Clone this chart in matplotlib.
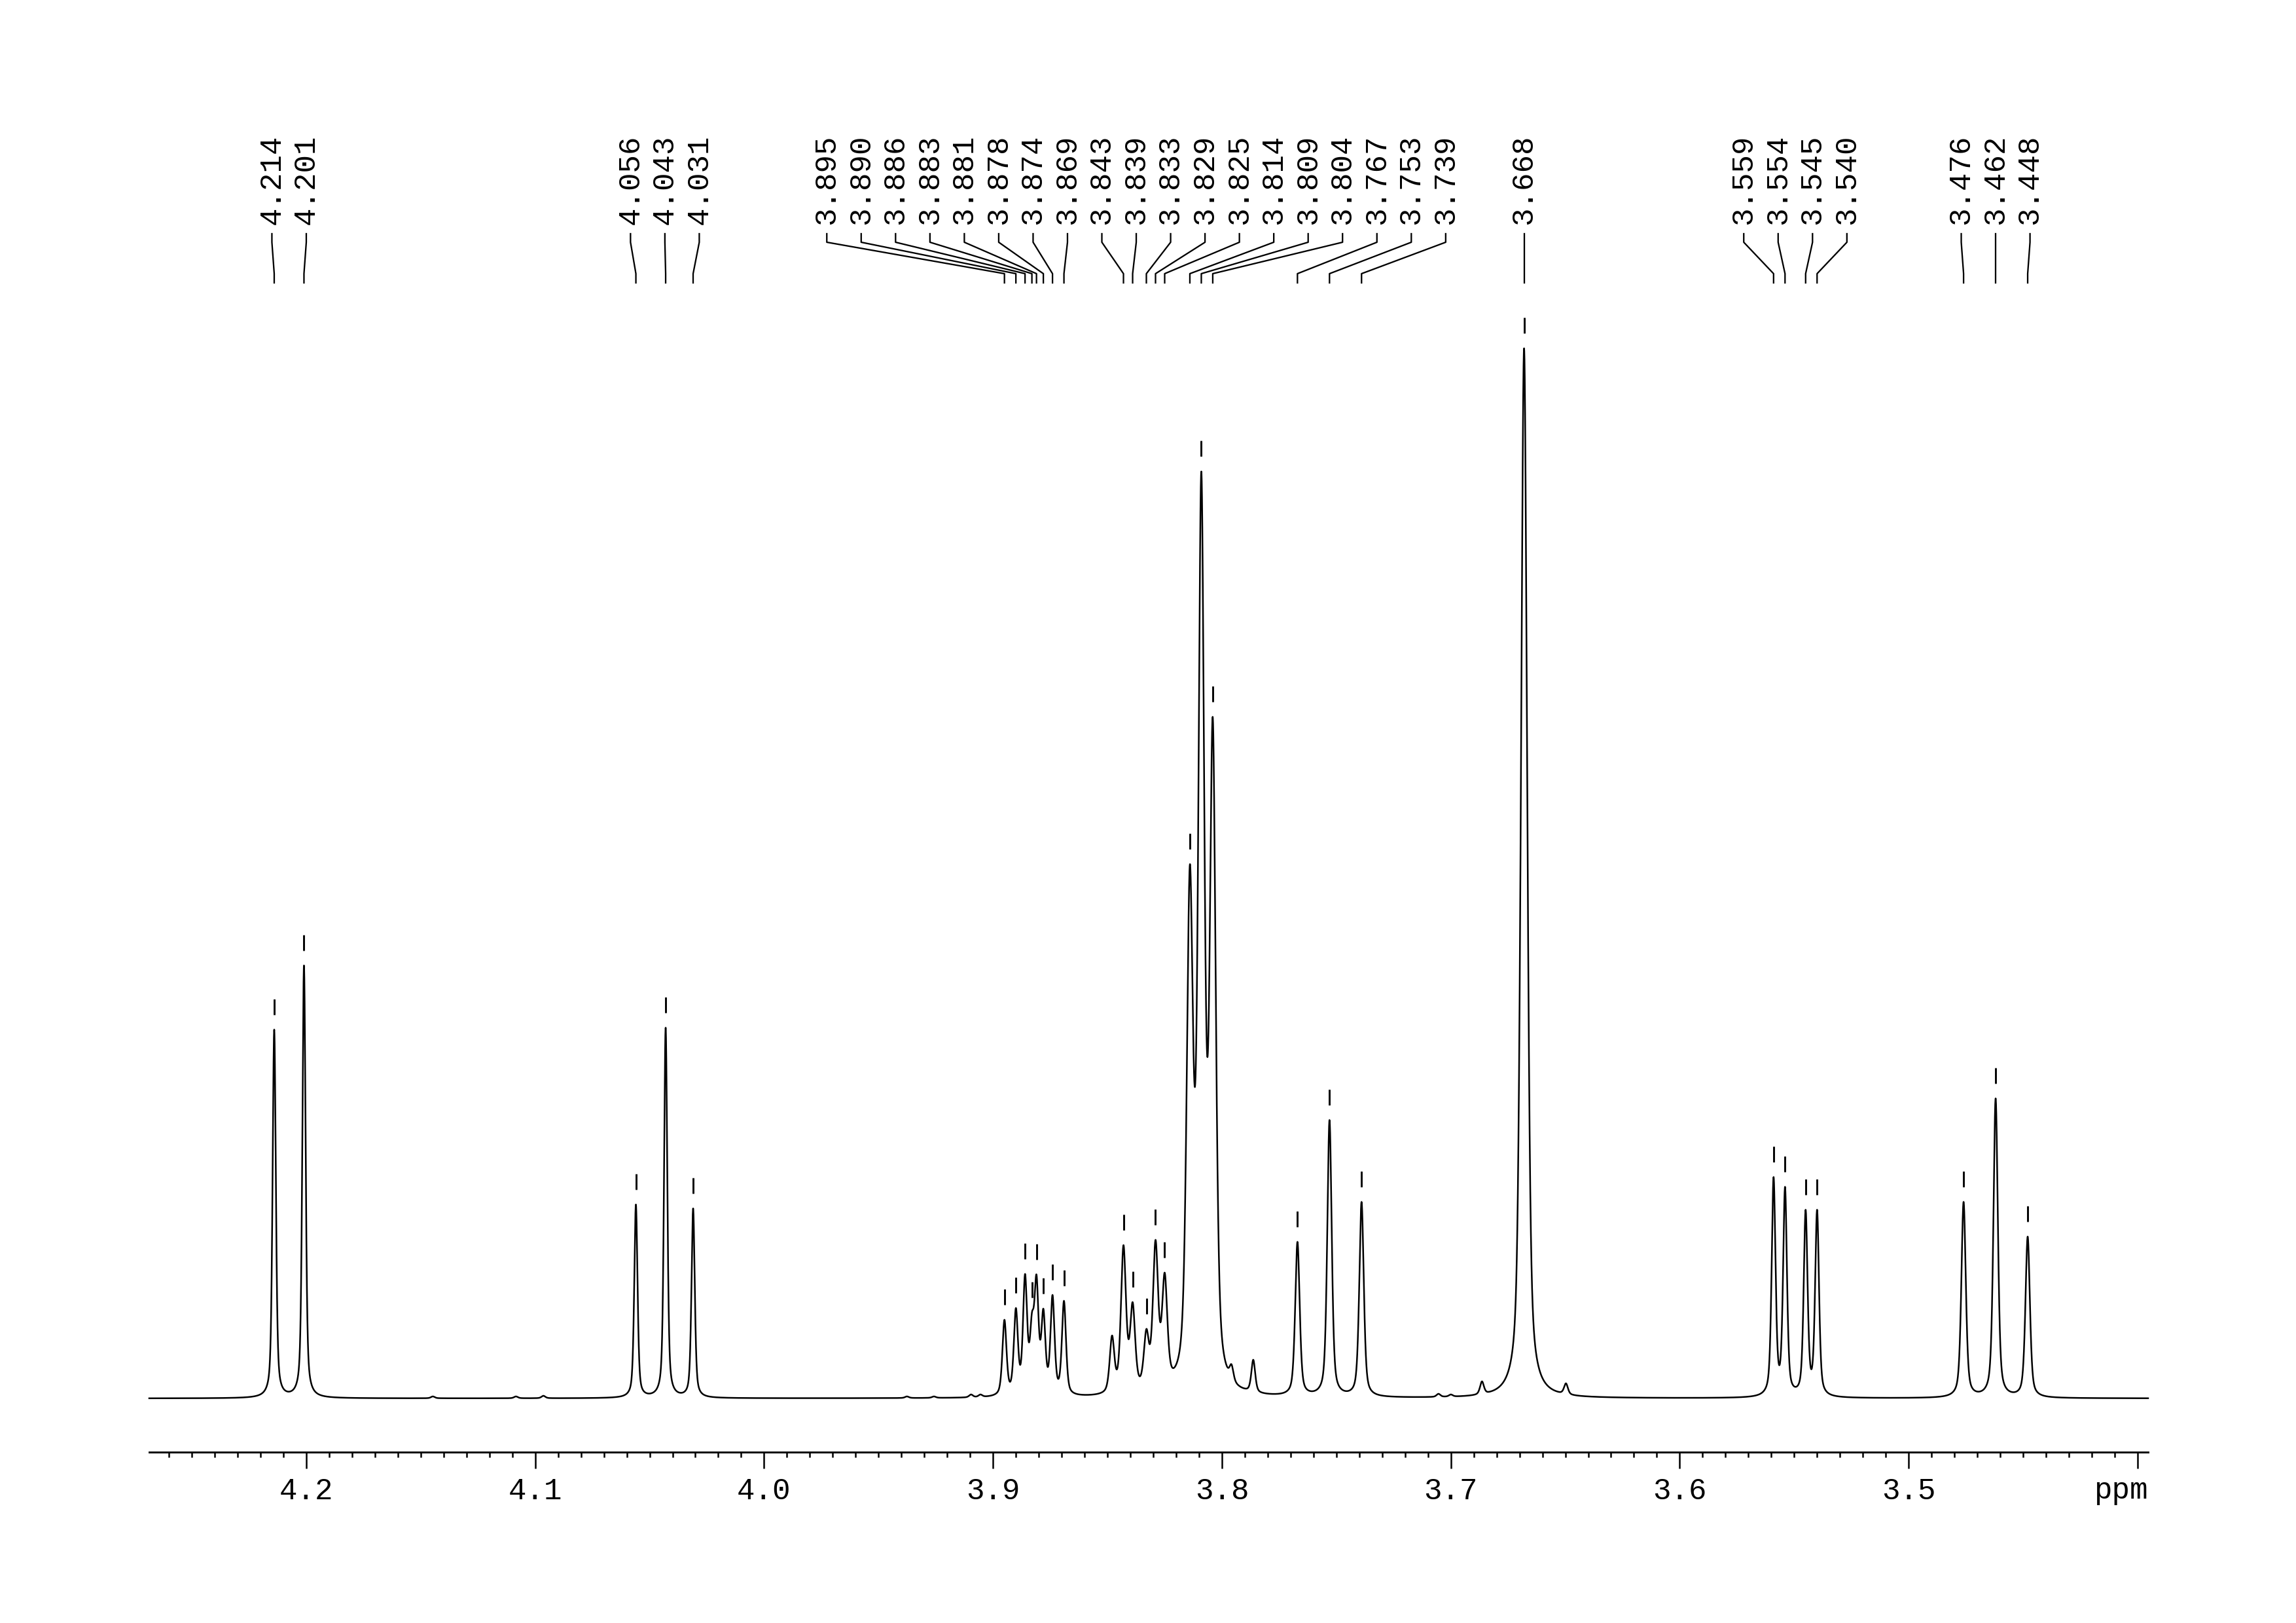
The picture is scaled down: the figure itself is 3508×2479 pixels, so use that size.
import numpy as np
import matplotlib
matplotlib.use("Agg")
import matplotlib.pyplot as plt
from matplotlib import transforms

# ---------------------------------------------------------------------------
# Spectrum data (1H NMR, ppm)
# ---------------------------------------------------------------------------

# picked / labelled peaks
label_ppm = [4.214, 4.201, 4.056, 4.043, 4.031,
             3.895, 3.890, 3.886, 3.883, 3.881, 3.878, 3.874, 3.869,
             3.843, 3.839, 3.833, 3.829, 3.825,
             3.814, 3.809, 3.804,
             3.767, 3.753, 3.739,
             3.668,
             3.559, 3.554, 3.545, 3.540,
             3.476, 3.462, 3.448]
# observed height of the trace at each peak (arbitrary intensity)
label_height = [563, 661, 296, 566, 290,
                120, 138, 190, 131, 189, 137, 158, 149,
                234, 147, 106, 242, 192,
                815, 1415, 1040,
                239, 425, 300,
                1603,
                338, 323, 288, 288,
                300, 458, 247]
# line width (FWHM, ppm)
label_width = [0.0017, 0.0017, 0.0017, 0.0017, 0.0017,
               0.0021, 0.0021, 0.0021, 0.0021, 0.0021, 0.0021, 0.0021, 0.0021,
               0.0026, 0.0026, 0.0026, 0.0027, 0.0027,
               0.0032, 0.0031, 0.0031,
               0.0023, 0.0023, 0.0023,
               0.0032,
               0.0020, 0.0020, 0.0020, 0.0020,
               0.0023, 0.0023, 0.0023]

# small unlabelled signals (shoulders, 13C satellites, impurities)
extra_ppm = [4.1447, 4.1084, 4.0964, 3.9376, 3.9258, 3.9096, 3.9055,
             3.848, 3.7958, 3.7863, 3.7054, 3.7000, 3.6864, 3.6497]
extra_height = [3, 3, 4, 3, 3, 6, 6,
                96, 52, 59, 7, 6, 26, 23]
extra_width = [0.0020, 0.0020, 0.0020, 0.0020, 0.0020, 0.0020, 0.0020,
               0.0024, 0.0020, 0.0020, 0.0020, 0.0020, 0.0020, 0.0020]

PPM_LEFT, PPM_RIGHT = 4.2686, 3.3954
ETA = 0.5                 # Lorentzian fraction of the pseudo-Voigt line shape
LABEL_SPACING = 0.01502   # ppm between neighbouring peak labels

FONT = ["Liberation Mono", "DejaVu Sans Mono"]
W_PX, H_PX = 3508, 2479


def pvoigt(x, x0, fwhm, eta=ETA):
    d = (np.asarray(x) - x0) / (fwhm / 2.0)
    return eta / (1.0 + d ** 2) + (1.0 - eta) * np.exp(-np.log(2) * d ** 2)


def build_spectrum(grid, ppm, height, width):
    """Solve for amplitudes so the summed trace hits the read heights."""
    ppm = np.asarray(ppm)
    width = np.asarray(width)
    m = np.array([[pvoigt(p, q, w) for q, w in zip(ppm, width)] for p in ppm])
    amps = np.linalg.solve(m, np.asarray(height, dtype=float))
    y = np.zeros_like(grid)
    for a, q, w in zip(amps, ppm, width):
        y += a * pvoigt(grid, q, w)
    return y


def label_positions(ppms, spacing):
    """Spread labels evenly around each crowded group, like TopSpin does."""
    clusters = [[p] for p in sorted(ppms, reverse=True)]
    merged = True
    while merged:
        merged = False
        for i in range(len(clusters) - 1):
            a, b = clusters[i], clusters[i + 1]
            a_last = np.mean(a) - (len(a) - 1) / 2 * spacing
            b_first = np.mean(b) + (len(b) - 1) / 2 * spacing
            if a_last - b_first < spacing:
                clusters[i] = a + b
                del clusters[i + 1]
                merged = True
                break
    pos = []
    for c in clusters:
        n = len(c)
        pos += [np.mean(c) + ((n - 1) / 2 - k) * spacing for k in range(n)]
    return pos


def fy(px):
    # figure fraction from a pixel row measured from the top
    return 1.0 - px / H_PX


# ---------------------------------------------------------------------------
# Figure
# ---------------------------------------------------------------------------

plt.rcParams["font.family"] = FONT

fig = plt.figure(figsize=(W_PX / 300, H_PX / 300), dpi=300)
ax = fig.add_axes([228 / W_PX, fy(2218), (3282 - 228) / W_PX, (2218 - 532) / H_PX])

grid = np.linspace(PPM_LEFT, PPM_RIGHT, 30000)
all_ppm = label_ppm + extra_ppm
all_height = label_height + extra_height
all_width = label_width + extra_width
spec = build_spectrum(grid, all_ppm, all_height, all_width)

ax.plot(grid, spec, color="black", lw=0.6, clip_on=False)
ax.set_xlim(PPM_LEFT, PPM_RIGHT)
ax.set_ylim(-82, 1603)

# peak-pick markers just above each labelled peak
ax.vlines(label_ppm, np.array(label_height) + 23, np.array(label_height) + 47,
          color="black", lw=0.7, clip_on=False)

# x axis in the Bruker style
for side in ("left", "right", "top"):
    ax.spines[side].set_visible(False)
ax.spines["bottom"].set_linewidth(0.7)
ax.set_yticks([])
major = [4.2, 4.1, 4.0, 3.9, 3.8, 3.7, 3.6, 3.5, 3.4]
ax.set_xticks(major)
ax.set_xticklabels([f"{t:.1f}" for t in major[:-1]] + [""])
ax.set_xticks(np.arange(3.40, 4.265, 0.01), minor=True)
ax.tick_params(axis="x", which="major", direction="out", length=6, width=0.6,
               pad=3, labelsize=11)
ax.tick_params(axis="x", which="minor", direction="out", length=2, width=0.6)
ax.text(1.0, -0.0219, "ppm", transform=ax.transAxes, ha="right", va="top",
        fontsize=11)

# peak labels with leader lines
trans = transforms.blended_transform_factory(ax.transData, fig.transFigure)
for p, lx in zip(sorted(label_ppm, reverse=True),
                 label_positions(label_ppm, LABEL_SPACING)):
    ax.text(lx, fy(343), f"{p:.3f}", rotation=90, ha="center", va="bottom",
            fontsize=11, transform=trans, clip_on=False)
    ax.plot([lx, lx, p, p], [fy(357), fy(370), fy(418), fy(432)],
            color="black", lw=0.55, transform=trans, clip_on=False)

fig.savefig("out.png", dpi=300)
